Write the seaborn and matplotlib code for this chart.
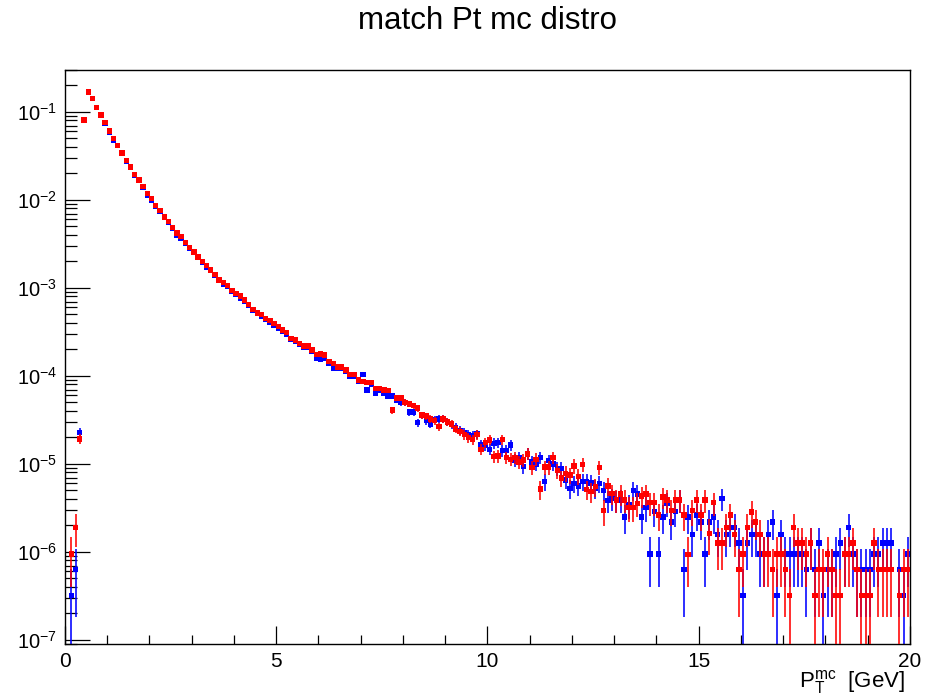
import numpy as np
import pandas as pd
import matplotlib
matplotlib.use("Agg")
import matplotlib.pyplot as plt
import matplotlib.ticker as mticker
import seaborn as sns

# ---------------- data (200 bins, 0 to 20 GeV, width 0.1) ----------------
bin_edges = np.linspace(0.0, 20.0, 201)
count_unit = 3.16e-7   # normalisation of one entry

blue_vals = [
    0, 3.2e-7, 6.3e-7, 2.29e-5, 0.082, 0.166, 0.141, 0.112, 0.091, 0.074,
    0.0585, 0.0480, 0.0412, 0.0335, 0.0277, 0.0233, 0.0192, 0.0165, 0.0140, 0.0114,
    0.0098, 0.0085, 0.0074, 0.0063, 0.0056, 0.0048, 0.0040, 0.0037, 0.00322, 0.00283,
    0.00251, 0.00222, 0.00196, 0.00172, 0.00158, 0.00140, 0.00121, 0.00110, 0.00104, 0.00092,
    0.00085, 7.6e-4, 7.0e-4, 6.3e-4, 5.5e-4, 5.1e-4, 4.8e-4, 4.4e-4, 4.1e-4, 3.75e-4,
    3.5e-4, 3.25e-4, 2.95e-4, 2.6e-4, 2.45e-4, 2.3e-4, 2.1e-4, 2.1e-4, 1.9e-4, 1.6e-4,
    1.55e-4, 1.6e-4, 1.38e-4, 1.23e-4, 1.22e-4, 1.21e-4, 1.12e-4, 1.0e-4, 9.8e-5, 8.8e-5,
    1.03e-4, 6.9e-5, 8.0e-5, 6.3e-5, 6.9e-5, 6.3e-5, 5.9e-5, 5.9e-5, 5.3e-5, 5.0e-5,
    5.0e-5, 3.9e-5, 3.9e-5, 2.95e-5, 3.6e-5, 3.1e-5, 2.85e-5, 3.2e-5, 3.25e-5, 3.25e-5,
    3.0e-5, 2.8e-5, 2.6e-5, 2.4e-5, 2.28e-5, 2.15e-5, 2.1e-5, 2.18e-5, 1.64e-5, 1.64e-5,
    1.47e-5, 1.72e-5, 1.74e-5, 1.42e-5, 1.42e-5, 1.64e-5, 1.11e-5, 1.19e-5, 9.4e-6, 1.3e-5,
    1.05e-5, 1.0e-5, 1.19e-5, 6.3e-6, 1.09e-5, 1.0e-5, 8.9e-6, 8.9e-6, 6.6e-6, 5.3e-6,
    6.0e-6, 5.6e-6, 6.3e-6, 6.3e-6, 6.1e-6, 5.3e-6, 6.0e-6, 5.0e-6, 3.85e-6, 4.05e-6,
    3.85e-6, 3.9e-6, 2.5e-6, 3.4e-6, 5.0e-6, 4.56e-6, 2.5e-6, 3.22e-6, 9.5e-7, 2.9e-6,
    9.5e-7, 2.5e-6, 3.57e-6, 2.2e-6, 2.9e-6, 3.9e-6, 6.3e-7, 2.5e-6, 1.58e-6, 2.63e-6,
    2.2e-6, 9.5e-7, 2.2e-6, 2.5e-6, 1.58e-6, 4.05e-6, 1.58e-6, 1.9e-6, 1.9e-6, 1.26e-6,
    3.2e-7, 1.26e-6, 1.58e-6, 1.58e-6, 9.5e-7, 9.5e-7, 1.58e-6, 2.2e-6, 3.2e-7, 1.58e-6,
    9.5e-7, 9.5e-7, 9.5e-7, 9.5e-7, 9.5e-7, 6.3e-7, 1.26e-6, 6.3e-7, 1.26e-6, 3.2e-7,
    6.3e-7, 6.3e-7, 9.5e-7, 1.26e-6, 9.5e-7, 1.9e-6, 9.5e-7, 6.3e-7, 6.3e-7, 6.3e-7,
    6.3e-7, 9.5e-7, 9.5e-7, 1.26e-6, 1.26e-6, 1.26e-6, 0, 6.3e-7, 3.2e-7, 9.5e-7,
]

red_vals = [
    0, 9.5e-7, 1.9e-6, 1.92e-5, 0.081, 0.168, 0.143, 0.113, 0.0925, 0.0755,
    0.0608, 0.0498, 0.0418, 0.0342, 0.0280, 0.0237, 0.0194, 0.0168, 0.0142, 0.0119,
    0.0103, 0.0086, 0.00755, 0.00641, 0.00566, 0.00484, 0.00419, 0.00383, 0.00327, 0.00287,
    0.00255, 0.00225, 0.00199, 0.00179, 0.00160, 0.00142, 0.00123, 0.00115, 0.00106, 0.00094,
    0.00087, 8.1e-4, 7.3e-4, 6.5e-4, 5.7e-4, 5.2e-4, 5.0e-4, 4.5e-4, 4.25e-4, 3.97e-4,
    3.63e-4, 3.33e-4, 3.1e-4, 2.68e-4, 2.56e-4, 2.35e-4, 2.19e-4, 2.19e-4, 1.97e-4, 1.75e-4,
    1.78e-4, 1.73e-4, 1.46e-4, 1.39e-4, 1.26e-4, 1.26e-4, 1.17e-4, 1.03e-4, 1.03e-4, 9.0e-5,
    8.6e-5, 8.4e-5, 8.4e-5, 7.2e-5, 7.2e-5, 6.9e-5, 6.8e-5, 4.1e-5, 5.6e-5, 5.6e-5,
    5.0e-5, 4.8e-5, 4.6e-5, 4.3e-5, 3.6e-5, 3.5e-5, 3.25e-5, 3.1e-5, 2.66e-5, 3.25e-5,
    3.0e-5, 2.85e-5, 2.5e-5, 2.33e-5, 2.15e-5, 2.0e-5, 1.9e-5, 2.15e-5, 1.47e-5, 1.74e-5,
    1.87e-5, 1.21e-5, 1.23e-5, 1.9e-5, 1.19e-5, 1.13e-5, 1.19e-5, 1.05e-5, 1.11e-5, 1.3e-5,
    9.1e-6, 1.13e-5, 5.2e-6, 9.2e-6, 9.2e-6, 1.19e-5, 8.4e-6, 6.9e-6, 7.8e-6, 7.5e-6,
    9.5e-6, 7.2e-6, 9.9e-6, 5.15e-6, 4.85e-6, 5.5e-6, 9.1e-6, 2.95e-6, 5.6e-6, 4.6e-6,
    3.9e-6, 4.56e-6, 3.9e-6, 3.22e-6, 3.22e-6, 3.57e-6, 4.33e-6, 4.56e-6, 3.64e-6, 3.64e-6,
    2.63e-6, 4.2e-6, 3.9e-6, 2.95e-6, 3.9e-6, 3.9e-6, 2.63e-6, 9.4e-7, 2.95e-6, 3.9e-6,
    2.63e-6, 3.9e-6, 1.63e-6, 3.64e-6, 1.26e-6, 1.26e-6, 1.9e-6, 2.63e-6, 1.58e-6, 6.3e-7,
    9.5e-7, 1.9e-6, 2.84e-6, 2.2e-6, 1.58e-6, 9.5e-7, 9.5e-7, 6.3e-7, 9.5e-7, 9.5e-7,
    6.3e-7, 3.2e-7, 1.9e-6, 1.26e-6, 1.26e-6, 9.5e-7, 1.26e-6, 3.2e-7, 6.3e-7, 6.3e-7,
    9.5e-7, 6.3e-7, 3.2e-7, 3.2e-7, 9.5e-7, 9.5e-7, 1.26e-6, 6.3e-7, 3.2e-7, 3.2e-7,
    3.2e-7, 1.26e-6, 6.3e-7, 6.3e-7, 6.3e-7, 6.3e-7, 0, 3.2e-7, 6.3e-7, 6.3e-7,
]

title_text = "match Pt mc distro"
y_tick_exps = [-7, -6, -5, -4, -3, -2, -1]
x_major_ticks = [0, 5, 10, 15, 20]

# ---------------- style ----------------
sns.set_style("white")
plt.rcParams["font.family"] = ["Liberation Sans", "DejaVu Sans"]
plt.rcParams["mathtext.fontset"] = "custom"
plt.rcParams["mathtext.rm"] = "Liberation Sans"
plt.rcParams["mathtext.it"] = "Liberation Sans:italic"
plt.rcParams["mathtext.bf"] = "Liberation Sans:bold"
plt.rcParams["text.color"] = "black"
plt.rcParams["xtick.color"] = "black"
plt.rcParams["ytick.color"] = "black"

centers = 0.5 * (bin_edges[:-1] + bin_edges[1:])


def make_frame(vals, name):
    v = np.asarray(vals, dtype=float)
    err = np.sqrt(v * count_unit)
    df = pd.DataFrame({"pt": centers, "val": v, "err": err, "series": name})
    return df[df["val"] > 0]


df_blue = make_frame(blue_vals, "blue")
df_red = make_frame(red_vals, "red")

fig = plt.figure(figsize=(9.28, 6.99), dpi=100)
ax = fig.add_axes([0.070, 0.0787, 0.9106, 0.8213])
ax.set_yscale("log")
ax.set_xlim(0, 20)
ymin, ymax = 0.9e-7, 0.30
ax.set_ylim(ymin, ymax)

for df, col, zb in ((df_blue, "#0000ff", 2), (df_red, "#ff0000", 4)):
    lo = np.clip(df["val"] - df["err"], ymin * 0.5, None)
    hi = df["val"] + df["err"]
    ax.vlines(df["pt"], lo, hi, colors=col, linewidth=1.15, zorder=zb)
    sns.scatterplot(data=df, x="pt", y="val", color=col, marker="s", s=15,
                    linewidth=0, edgecolor="none", legend=False, ax=ax,
                    zorder=zb + 1)

# ---------------- axes cosmetics (ROOT look) ----------------
for sp in ax.spines.values():
    sp.set_color("black")
    sp.set_linewidth(1.0)

ax.yaxis.set_major_locator(mticker.FixedLocator([10.0 ** e for e in y_tick_exps]))
ax.yaxis.set_major_formatter(mticker.FixedFormatter(
    [r"$\mathrm{10^{%d}}$" % e for e in y_tick_exps]))
ax.yaxis.set_minor_locator(mticker.LogLocator(base=10, subs=np.arange(2, 10), numticks=20))
ax.yaxis.set_minor_formatter(mticker.NullFormatter())

ax.xaxis.set_major_locator(mticker.FixedLocator(x_major_ticks))
ax.xaxis.set_minor_locator(mticker.MultipleLocator(1))

ax.tick_params(axis="y", which="major", direction="in", length=18, width=0.9,
               labelsize=14.5, pad=5.5, left=True, right=False)
ax.tick_params(axis="y", which="minor", direction="in", length=8.5, width=0.9,
               left=True, right=False)
ax.tick_params(axis="x", which="major", direction="in", length=13, width=0.9,
               labelsize=15, pad=6, bottom=True, top=False)
ax.tick_params(axis="x", which="minor", direction="in", length=6.5, width=0.9,
               bottom=True, top=False)

ax.set_xlabel("")
ax.set_ylabel("")

fig.text(0.5253, 0.9585, title_text, ha="center", va="baseline", fontsize=22.5)
fig.text(0.975, 0.016, r"$\mathrm{P_{T}^{mc}}$  [GeV]", ha="right", va="baseline",
         fontsize=16)

fig.savefig("out.png", dpi=100, facecolor="white")
